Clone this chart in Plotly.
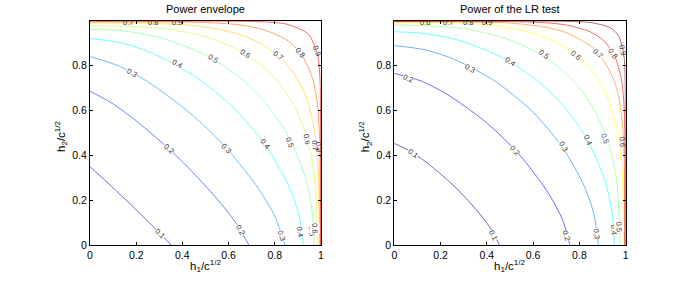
import plotly.graph_objects as go

# ---------------- data ----------------
levels = [0.1, 0.2, 0.3, 0.4, 0.5, 0.6, 0.7, 0.8, 0.9]

# Power envelope contour lines (one list per level)
env_x = [
    [0, .0527, .1053, .1791, .2519, .3026, .351],
    [0, .1032, .2064, .344, .3861, .4273, .5499, .6286, .688],
    [0, .1266, .2532, .422, .5144, .6006, .729, .8012, .844],
    [0, .1386, .2772, .462, .6175, .7487, .8543, .9032, .924],
    [0, .1455, .291, .485, .6305, .7027, .7673, .8615, .9354, .9623, .970],
    [0, .2952, .492, .6396, .738, .7748, .8086, .8758, .9364, .9736, .984],
    [0, .2976, .496, .6448, .744, .8305, .8967, .9409, .9745, .9897, .992],
    [0, .2988, .498, .6474, .747, .8466, .8855, .9176, .9624, .9823, .9931, .9959, .996],
    [0, .6487, .7485, .8483, .9281, .942, .9539, .9853, .9953, .9975, .998],
]
env_y = [
    [.348, .300, .2498, .1775, .1044, .0522, 0],
    [.686, .6268, .5483, .4261, .385, .343, .2058, .1029, 0],
    [.84, .7974, .7256, .5977, .512, .42, .252, .126, 0],
    [.921, .9003, .8516, .7463, .6155, .4605, .2763, .1382, 0],
    [.962, .9544, .9277, .8544, .7609, .6969, .6253, .481, .2886, .1443, 0],
    [.978, .9676, .9307, .8704, .8036, .7701, .7335, .6357, .489, .2934, 0],
    [.99, .9877, .9726, .939, .8949, .8288, .7425, .6435, .495, .297, 0],
    [.995, .9949, .9921, .9813, .9615, .9167, .8847, .8458, .7463, .6468, .4975, .2985, 0],
    [.998, .9975, .9953, .9853, .9539, .942, .9281, .8483, .7485, .6487, 0],
]

# Power of the LR test contour lines
lr_x = [
    [0, .0681, .1362, .227, .2608, .2935, .3714, .4197, .454],
    [0, .1139, .2277, .3795, .4722, .557, .6668, .7261, .759],
    [0, .1323, .2646, .441, .5733, .5935, .6133, .721, .819, .8636, .882],
    [0, .1427, .2853, .4755, .6182, .6782, .733, .8311, .9108, .9415, .951],
    [0, .2927, .4878, .6341, .7316, .7509, .7695, .8437, .9137, .9602, .9755],
    [0, .297, .495, .6435, .7425, .8167, .8764, .9265, .9666, .9863, .99],
    [0, .2985, .4975, .6468, .7463, .8458, .8685, .8891, .9452, .9723, .9892, .9946, .995],
    [0, .4985, .6481, .7478, .8475, .9079, .95, .98, .9913, .9962, .997],
    [0, .7485, .8483, .9281, .9529, .9711, .9919, .9971, .998],
]
lr_y = [
    [.453, .4188, .3706, .2928, .2602, .2265, .1359, .068, 0],
    [.765, .7318, .6721, .5614, .4759, .3825, .2295, .1148, 0],
    [.889, .8704, .8255, .7267, .6181, .5982, .5779, .4445, .2667, .1334, 0],
    [.951, .9415, .9108, .8311, .733, .6782, .6182, .4755, .2853, .1427, 0],
    [.981, .9656, .9188, .8485, .7738, .7552, .7358, .6377, .4905, .2943, 0],
    [.9926, .9889, .9692, .929, .8787, .8188, .7445, .6452, .4963, .2978, 0],
    [.995, .9946, .9892, .9723, .9452, .8891, .8685, .8458, .7463, .6468, .4975, .2985, 0],
    [.997, .9962, .9913, .98, .95, .9079, .8475, .7478, .6481, .4985, 0],
    [.998, .9971, .9919, .9711, .9529, .9281, .8483, .7485, 0],
]

# contour labels: text, x, y, angle
env_lab_text = ["0.1", "0.2", "0.2", "0.3", "0.3", "0.3", "0.4", "0.4", "0.4", "0.5", "0.5", "0.5",
                "0.6", "0.6", "0.6", "0.7", "0.7", "0.8", "0.8", "0.9", "0.7", "0.8", "0.9"]
env_lab_x = [.303, .342, .649, .18, .59, .83, .375, .757, .909, .532, .866, .96,
             .671, .938, .974, .814, .974, .909, .99, .982, .165, .273, .377]
env_lab_y = [.052, .431, .067, .77, .43, .044, .807, .452, .06, .831, .459, .065,
             .853, .474, .075, .844, .444, .858, .44, .867, .99, .99, .99]
env_lab_ang = [45, 42, 59, 29, 46, 71, 29, 52, 81, 32, 68, 85,
               33, 79, 87, 37, 86, 50, 89, 70, 0, 0, 0]

lr_lab_text = ["0.1", "0.1", "0.2", "0.2", "0.2", "0.3", "0.3", "0.3", "0.4", "0.4", "0.4",
               "0.5", "0.5", "0.5", "0.6", "0.6", "0.7", "0.8", "0.9", "0.6", "0.7", "0.8", "0.9"]
lr_lab_x = [.082, .425, .0605, .522, .745, .327, .7305, .8746, .5, .8386, .9467,
            .648, .9107, .973, .7866, .985, .8805, .945, .989, .134, .234, .32, .402]
lr_lab_y = [.409, .045, .743, .4235, .0446, .7875, .438, .052, .817, .468, .067,
            .851, .4755, .08, .847, .46, .855, .855, .869, .99, .99, .99, .99]
lr_lab_ang = [35, 63, 22, 47, 74, 28, 60, 82, 34, 67, 86,
              37, 71, 88, 38, 88, 44, 54, 75, 0, 0, 0, 0]

titles = ["Power envelope", "Power of the LR test"]
tick_vals_x = [0, 0.2, 0.4, 0.6, 0.8, 1]
tick_text_x = ["0", "0.2", "0.4", "0.6", "0.8", "1"]
tick_vals_y = [0, 0.2, 0.4, 0.6, 0.8]
tick_text_y = ["0", "0.2", "0.4", "0.6", "0.8"]

# ---------------- styles ----------------
env_colors = ["rgb(0,0,204)", "rgb(0,51,255)", "rgb(0,153,255)", "rgb(0,255,255)",
              "rgb(102,255,153)", "rgb(204,255,51)", "rgb(255,204,0)", "rgb(255,102,0)",
              "rgb(255,0,0)"]
lr_colors = ["rgb(0,0,128)", "rgb(0,0,255)", "rgb(0,128,255)", "rgb(0,255,255)",
             "rgb(128,255,128)", "rgb(255,255,0)", "rgb(255,128,0)", "rgb(255,0,0)",
             "rgb(128,0,0)"]

FONT = "Liberation Sans, Arial, Helvetica, sans-serif"
W, H = 692, 281
dom_x1 = [90 / W, 321 / W]
dom_x2 = [394.3 / W, 625.7 / W]
dom_y = [(H - 245) / H, (H - 20.7) / H]

fig = go.Figure()

for i, lv in enumerate(levels):
    fig.add_trace(go.Scatter(x=env_x[i], y=env_y[i], mode="lines",
                             line=dict(color=env_colors[i], width=0.9, shape="spline", smoothing=0.8),
                             opacity=0.65, xaxis="x", yaxis="y", showlegend=False,
                             hoverinfo="skip"))
    fig.add_trace(go.Scatter(x=lr_x[i], y=lr_y[i], mode="lines",
                             line=dict(color=lr_colors[i], width=0.9, shape="spline", smoothing=0.8),
                             opacity=0.65, xaxis="x2", yaxis="y2", showlegend=False,
                             hoverinfo="skip"))

annotations = []


def add_labels(texts, xs, ys, angs, xref, yref):
    for t, x, y, a in zip(texts, xs, ys, angs):
        edge = (y > 0.97) or (x > 0.98)
        ann = dict(text=t, x=x, y=y, xref=xref, yref=yref, showarrow=False,
                   textangle=a, font=dict(family=FONT, size=7.5, color="#333"),
                   borderpad=0, xanchor="center", yanchor="middle")
        if not edge:
            ann["bgcolor"] = "white"
        annotations.append(ann)


add_labels(env_lab_text, env_lab_x, env_lab_y, env_lab_ang, "x", "y")
add_labels(lr_lab_text, lr_lab_x, lr_lab_y, lr_lab_ang, "x2", "y2")

for dom, title in zip([dom_x1, dom_x2], titles):
    cx = (dom[0] + dom[1]) / 2
    annotations.append(dict(text=title, x=cx, y=1 - 9 / H, xref="paper", yref="paper",
                            showarrow=False, xanchor="center", yanchor="middle",
                            font=dict(family=FONT, size=11, color="black")))
    annotations.append(dict(text="h<sub>1</sub>/c<sup>1/2</sup>", x=cx, y=1 - 266 / H,
                            xref="paper", yref="paper", showarrow=False,
                            xanchor="center", yanchor="middle",
                            font=dict(family=FONT, size=11.5, color="black")))
    annotations.append(dict(text="h<sub>2</sub>/c<sup>1/2</sup>", x=dom[0] - 29 / W,
                            y=1 - 136 / H, xref="paper", yref="paper", showarrow=False,
                            textangle=-90, xanchor="center", yanchor="middle",
                            font=dict(family=FONT, size=11.5, color="black")))

axis_common = dict(showline=True, linecolor="black", linewidth=1, mirror="ticks",
                   ticks="inside", ticklen=3, tickcolor="black", showgrid=False,
                   zeroline=False, tickfont=dict(family=FONT, size=10.5, color="black"),
                   fixedrange=True, automargin=False)

fig.update_layout(
    width=W, height=H, autosize=False,
    margin=dict(l=0, r=0, t=0, b=0, pad=0),
    paper_bgcolor="white", plot_bgcolor="white",
    xaxis=dict(domain=dom_x1, range=[0, 1], anchor="y", tickvals=tick_vals_x,
               ticktext=tick_text_x, **axis_common),
    yaxis=dict(domain=dom_y, range=[0, 1], anchor="x", tickvals=tick_vals_y,
               ticktext=tick_text_y, **axis_common),
    xaxis2=dict(domain=dom_x2, range=[0, 1], anchor="y2", tickvals=tick_vals_x,
                ticktext=tick_text_x, **axis_common),
    yaxis2=dict(domain=dom_y, range=[0, 1], anchor="x2", tickvals=tick_vals_y,
                ticktext=tick_text_y, **axis_common),
    annotations=annotations,
    showlegend=False,
)

fig.write_html(
    "out.html",
    config={"displayModeBar": False, "staticPlot": True},
    post_script="document.body.style.margin='0';document.body.style.overflow='hidden';",
)
